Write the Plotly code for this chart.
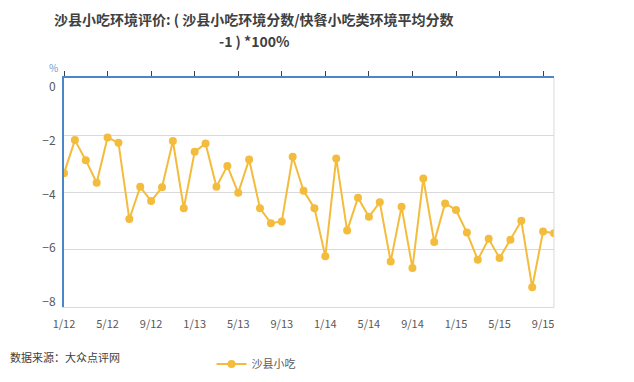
import plotly.graph_objects as go

# Monthly data, Jan 2012 .. Oct 2015
months = list(range(46))
values = [-3.33, -2.17, -2.87, -3.66, -2.08, -2.26, -4.93, -3.80, -4.30, -3.82,
          -2.20, -4.55, -2.58, -2.29, -3.80, -3.07, -4.01, -2.85, -4.55, -5.07,
          -5.01, -2.75, -3.94, -4.55, -6.23, -2.81, -5.33, -4.18, -4.85, -4.34,
          -6.41, -4.50, -6.64, -3.51, -5.73, -4.38, -4.61, -5.40, -6.35, -5.62,
          -6.29, -5.65, -4.99, -7.31, -5.36, -5.42]
tick_pos = [0, 4, 8, 12, 16, 20, 24, 28, 32, 36, 40, 44]
tick_labels = ["1/12", "5/12", "9/12", "1/13", "5/13", "9/13",
               "1/14", "5/14", "9/14", "1/15", "5/15", "9/15"]
y_ticks = [0, -2, -4, -6, -8]
series_name = "沙县小吃"

W, H = 634, 382
ml, mr, mt, mb = 64, 80, 77.5, 75
pw, ph = W - ml - mr, H - mt - mb

def cx(x):
    return x / W

def cy(y):
    return 1 - y / H

cjk = "Noto Sans CJK SC, Microsoft YaHei, sans-serif"
gold = "#F4BC3C"
blue = "#4A86C8"

fig = go.Figure()
fig.add_trace(go.Scatter(
    x=months, y=values, mode="lines+markers", name=series_name,
    line=dict(color=gold, width=2),
    marker=dict(color=gold, size=8),
))
fig.add_trace(go.Scatter(x=[0], y=[None], xaxis="x2", showlegend=False,
                         hoverinfo="skip"))
fig.add_trace(go.Scatter(x=[0], y=[None], yaxis="y3", showlegend=False,
                         hoverinfo="skip"))

fig.update_layout(
    width=W, height=H,
    margin=dict(l=ml, r=mr, t=mt, b=mb, pad=0, autoexpand=False),
    paper_bgcolor="white", plot_bgcolor="white",
    font=dict(family=cjk, color="#595959"),
    showlegend=True,
    legend=dict(orientation="h", xref="container", yref="container",
                x=cx(256), xanchor="center", y=cy(364), yanchor="middle",
                font=dict(size=11, color="#595959", family=cjk),
                itemwidth=30),
    xaxis=dict(range=[0, 45], tickvals=tick_pos, ticktext=tick_labels,
               automargin=False,
               showgrid=False, zeroline=False, showline=True,
               linecolor="#d9d9d9", linewidth=1,
               ticks="outside", ticklen=7, tickcolor="rgba(0,0,0,0)",
               tickfont=dict(size=11, color="#595959", family=cjk)),
    xaxis2=dict(range=[0, 45], overlaying="x", side="top", matches="x",
                automargin=False,
                tickvals=tick_pos, showticklabels=False,
                showgrid=False, zeroline=False, showline=True,
                linecolor=blue, linewidth=2,
                ticks="outside", ticklen=5, tickcolor="#404040", tickwidth=1),
    yaxis=dict(range=[-8, 0], dtick=2, showgrid=True, gridcolor="#d9d9d9",
               automargin=False, showticklabels=False,
               zeroline=False, showline=True, linecolor=blue, linewidth=2),
    yaxis3=dict(range=[-8.197, 0.342], overlaying="y", side="left",
                tickvals=y_ticks, automargin=False,
                showgrid=False, zeroline=False, showline=False,
                ticks="outside", ticklen=5, tickcolor="rgba(0,0,0,0)",
                tickfont=dict(size=12, color="#595959", family=cjk)),
    shapes=[dict(type="line", xref="paper", yref="paper", x0=1, x1=1, y0=0, y1=1,
                 line=dict(color="#d9d9d9", width=1))],
    annotations=[
        dict(text="<b>沙县小吃环境评价: ( 沙县小吃环境分数/快餐小吃类环境平均分数</b>",
             xref="paper", yref="paper", x=(254 - ml) / pw, y=(H - mb - 18) / ph,
             xanchor="center", yanchor="middle", showarrow=False,
             font=dict(size=14, color="#404040", family=cjk)),
        dict(text="<b>-1 ) *100%</b>",
             xref="paper", yref="paper", x=(254 - ml) / pw, y=(H - mb - 40) / ph,
             xanchor="center", yanchor="middle", showarrow=False,
             font=dict(size=14, color="#404040", family=cjk)),
        dict(text="%", xref="paper", yref="paper", x=(53 - ml) / pw,
             y=(H - mb - 67) / ph,
             xanchor="center", yanchor="middle", showarrow=False,
             font=dict(size=10, color="#6A9BD0", family=cjk)),
        dict(text="数据来源：大众点评网", xref="paper", yref="paper",
             x=(8 - ml) / pw, y=(H - mb - 357) / ph, xanchor="left",
             yanchor="middle", showarrow=False,
             font=dict(size=11, color="#404040", family=cjk)),
    ],
)

fig.write_html("out.html")
